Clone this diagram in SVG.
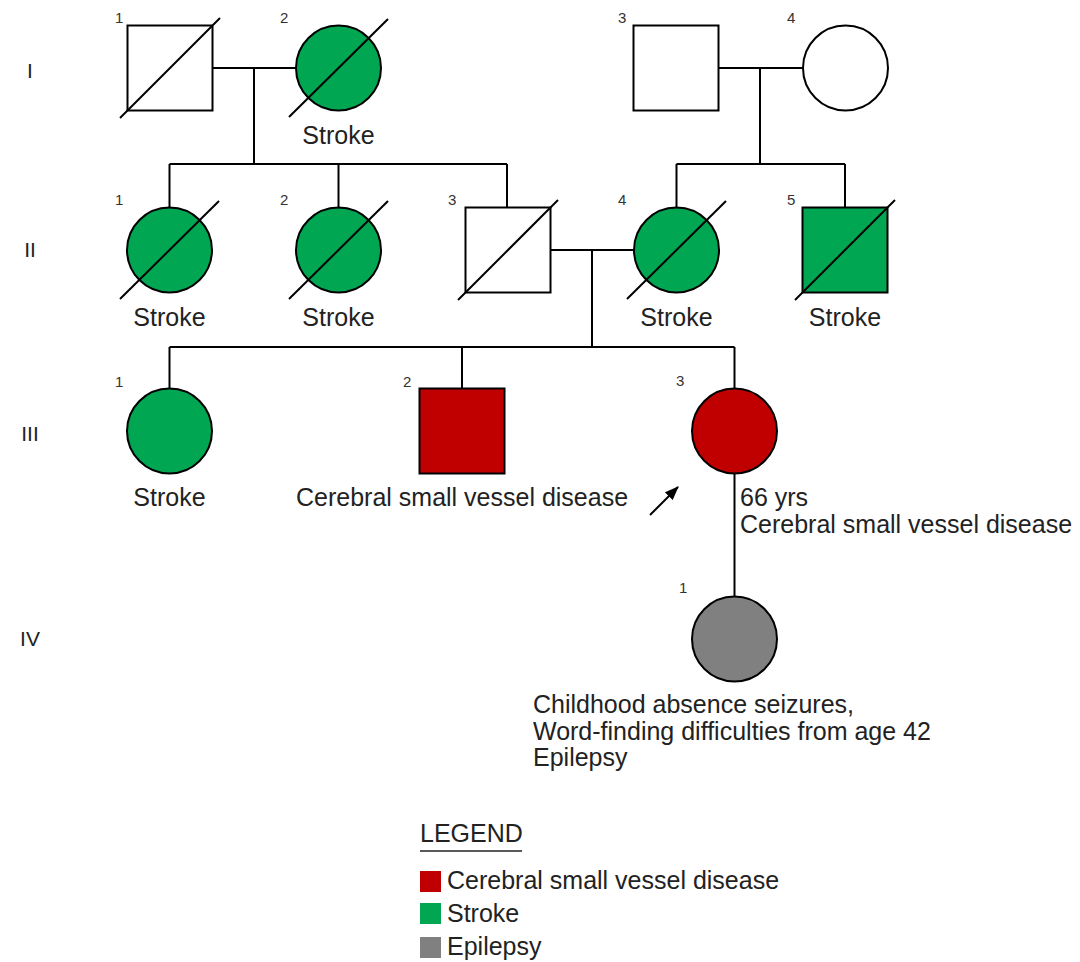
<svg xmlns="http://www.w3.org/2000/svg" width="1080" height="962" viewBox="0 0 1080 962">
  <defs>
    <marker id="arrowHead" viewBox="0 0 14 11" refX="13" refY="5.5" markerWidth="14" markerHeight="11" markerUnits="userSpaceOnUse" orient="auto">
      <path d="M0,0 L14,5.5 L0,11 z" fill="#000"/>
    </marker>
    <style>
      .shape { stroke: #000; stroke-width: 2; }
      .open { fill: #fff; }
      .stroke { fill: #00a651; }
      .csvd { fill: #c00000; }
      .epi { fill: #808080; }
      .dec { stroke: #000; stroke-width: 2; fill: none; }
      .link { stroke: #000; stroke-width: 2; fill: none; }
      .num { font-family: "Liberation Sans", Arial, sans-serif; font-size: 15px; fill: #333; }
      .gen { font-family: "Liberation Sans", Arial, sans-serif; font-size: 21px; fill: #222; text-anchor: middle; }
      .lbl { font-family: "Liberation Sans", Arial, sans-serif; font-size: 25px; fill: #222; }
      .mid { text-anchor: middle; }
    </style>
  </defs>
  <rect width="1080" height="962" fill="#fff"/>

  <!-- generation numerals -->
  <g id="generations">
    <text class="gen" x="30" y="78">I</text>
    <text class="gen" x="30" y="257">II</text>
    <text class="gen" x="30" y="441">III</text>
    <text class="gen" x="30" y="646">IV</text>
  </g>

  <!-- lines of descent and marriage -->
  <g id="connectors">
    <path class="link" d="M212.5,68 H296"/>
    <path class="link" d="M254,68 V164"/>
    <path class="link" d="M169.5,164 H507 M169.5,164 V207.5 M338.5,164 V207.5 M507,164 V207.5"/>
    <path class="link" d="M718,68 H803"/>
    <path class="link" d="M760,68 V164"/>
    <path class="link" d="M676.5,164 H845 M676.5,164 V207.5 M845,164 V207.5"/>
    <path class="link" d="M550,250 H634"/>
    <path class="link" d="M592,250 V347"/>
    <path class="link" d="M169.5,347 H734.5 M169.5,347 V388.5 M462,347 V389 M734.5,347 V388.5"/>
    <path class="link" d="M734.5,473.5 V596.5"/>
    <line id="proband-arrow" x1="650" y1="515" x2="678" y2="487" stroke="#000" stroke-width="2" marker-end="url(#arrowHead)"/>
  </g>

  <!-- generation I -->
  <g id="I-1">
    <rect class="shape open" x="127.5" y="25.5" width="85" height="85"/>
    <line class="dec" x1="120" y1="118" x2="220" y2="18"/>
    <text class="num" x="115" y="23">1</text>
  </g>
  <g id="I-2">
    <circle class="shape stroke" cx="338.5" cy="68" r="42.5"/>
    <line class="dec" x1="289" y1="117" x2="388" y2="19"/>
    <text class="num" x="280" y="23">2</text>
    <text class="lbl mid" x="338.5" y="144">Stroke</text>
  </g>
  <g id="I-3">
    <rect class="shape open" x="633.5" y="25.5" width="85" height="85"/>
    <text class="num" x="618" y="23">3</text>
  </g>
  <g id="I-4">
    <circle class="shape open" cx="845.5" cy="68" r="42.5"/>
    <text class="num" x="787" y="23">4</text>
  </g>

  <!-- generation II -->
  <g id="II-1">
    <circle class="shape stroke" cx="169.5" cy="250" r="42.5"/>
    <line class="dec" x1="120" y1="299" x2="219" y2="201"/>
    <text class="num" x="115" y="205">1</text>
    <text class="lbl mid" x="169.5" y="326">Stroke</text>
  </g>
  <g id="II-2">
    <circle class="shape stroke" cx="338.5" cy="250" r="42.5"/>
    <line class="dec" x1="289" y1="299" x2="388" y2="201"/>
    <text class="num" x="280" y="205">2</text>
    <text class="lbl mid" x="338.5" y="326">Stroke</text>
  </g>
  <g id="II-3">
    <rect class="shape open" x="465.5" y="207.5" width="85" height="85"/>
    <line class="dec" x1="458" y1="300" x2="558" y2="200"/>
    <text class="num" x="448" y="205">3</text>
  </g>
  <g id="II-4">
    <circle class="shape stroke" cx="676.5" cy="250" r="42.5"/>
    <line class="dec" x1="627" y1="299" x2="726" y2="201"/>
    <text class="num" x="618" y="205">4</text>
    <text class="lbl mid" x="676.5" y="326">Stroke</text>
  </g>
  <g id="II-5">
    <rect class="shape stroke" x="802.5" y="207.5" width="85" height="85"/>
    <line class="dec" x1="795" y1="300" x2="895" y2="200"/>
    <text class="num" x="787" y="205">5</text>
    <text class="lbl mid" x="845" y="326">Stroke</text>
  </g>

  <!-- generation III -->
  <g id="III-1">
    <circle class="shape stroke" cx="169.5" cy="431" r="42.5"/>
    <text class="num" x="115" y="387">1</text>
    <text class="lbl mid" x="169.5" y="506">Stroke</text>
  </g>
  <g id="III-2">
    <rect class="shape csvd" x="419.5" y="388.5" width="85" height="85"/>
    <text class="num" x="403" y="387">2</text>
    <text class="lbl" x="296" y="506">Cerebral small vessel disease</text>
  </g>
  <g id="III-3">
    <circle class="shape csvd" cx="734.5" cy="431" r="42.5"/>
    <text class="num" x="676" y="386">3</text>
    <text class="lbl" x="740" y="506">66 yrs</text>
    <text class="lbl" x="740" y="533">Cerebral small vessel disease</text>
  </g>

  <!-- generation IV -->
  <g id="IV-1">
    <circle class="shape epi" cx="734.5" cy="639" r="42.5"/>
    <text class="num" x="679" y="593">1</text>
    <text class="lbl" x="533" y="713">Childhood absence seizures,</text>
    <text class="lbl" x="533" y="740">Word-finding difficulties from age 42</text>
    <text class="lbl" x="533" y="766">Epilepsy</text>
  </g>

  <!-- legend -->
  <g id="legend">
    <text class="lbl" x="420" y="842">LEGEND</text>
    <line x1="420" y1="851" x2="522" y2="851" stroke="#222" stroke-width="1.5"/>
    <rect x="420" y="871" width="21" height="21" fill="#c00000"/>
    <text class="lbl" x="447" y="889">Cerebral small vessel disease</text>
    <rect x="420" y="903" width="21" height="21" fill="#00a651"/>
    <text class="lbl" x="447" y="922">Stroke</text>
    <rect x="420" y="937" width="21" height="21" fill="#808080"/>
    <text class="lbl" x="447" y="955">Epilepsy</text>
  </g>
</svg>
